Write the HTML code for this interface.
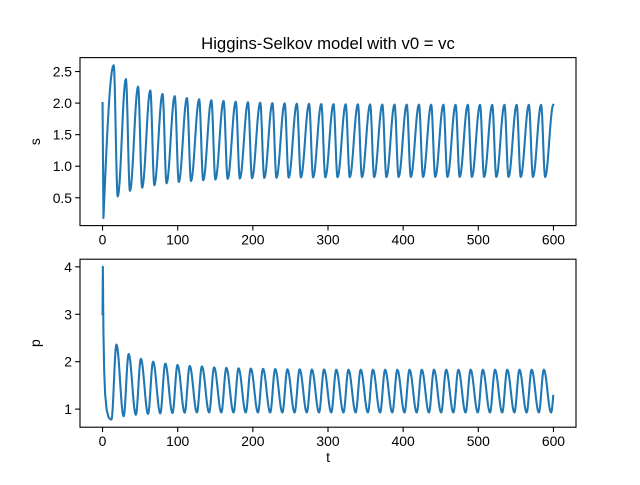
<!DOCTYPE html>
<html><head><meta charset="utf-8"><style>
body{margin:0;background:#fff}
svg{font-family:"Liberation Sans","DejaVu Sans",sans-serif}
</style></head><body>
<svg width="640" height="480" viewBox="0 0 640 480">
<rect width="640" height="480" fill="#fff"/>
<text x="328" y="49" font-size="16.7" text-anchor="middle">Higgins-Selkov model with v0 = vc</text>
<g id="top"></g>
<g id="bot"></g>
</svg>
<script>
const xTicks=[0,100,200,300,400,500,600];
const sTicks=[0.5,1.0,1.5,2.0,2.5];
const pTicks=[1,2,3,4];
const period=16.25;
const sInitial=[[0,2.0],[1.2,0.18]];
const sPeakT0=14.8;const sTroughT0=20.2;
const sPeaks=[2.60,2.38,2.26,2.20,2.145,2.11,2.08,2.06,2.045,2.034,2.022,2.013,2.006,2.0,1.995,1.99,1.988,1.985,1.983,1.98,1.98,1.978,1.977,1.976,1.975,1.975,1.974,1.974,1.973,1.973,1.973,1.972,1.972,1.972,1.972,1.972,1.972];
const sTroughs=[0.52,0.61,0.66,0.70,0.73,0.75,0.766,0.777,0.79,0.80,0.805,0.81,0.815,0.818,0.82,0.822,0.824,0.825,0.826,0.827,0.828,0.828,0.829,0.829,0.83,0.83,0.83,0.83,0.83,0.83,0.83,0.83,0.83,0.83,0.83,0.83,0.83];
const pInitial=[[0,3.0],[0.4,4.0],[1.2,2.6],[2.2,1.8],[3.5,1.3],[5.5,0.98],[8,0.83]];
const pTroughT0=11.8;const pPeakT0=18.5;
const pTroughs=[0.78,0.85,0.88,0.90,0.91,0.92,0.925,0.93,0.93,0.93,0.93,0.93,0.93,0.93,0.93,0.93,0.93,0.93,0.93,0.93,0.93,0.93,0.93,0.93,0.93,0.93,0.93,0.93,0.93,0.93,0.93,0.93,0.93,0.93,0.93,0.93,0.93];
const pPeaks=[2.36,2.16,2.06,2.0,1.96,1.93,1.91,1.90,1.88,1.87,1.86,1.855,1.85,1.845,1.84,1.84,1.835,1.835,1.83,1.83,1.83,1.83,1.83,1.83,1.83,1.83,1.83,1.83,1.83,1.83,1.83,1.83,1.83,1.83,1.83,1.83,1.83];

const NS="http://www.w3.org/2000/svg";
function el(p,tag,at){const e=document.createElementNS(NS,tag);for(const k in at)e.setAttribute(k,at[k]);p.appendChild(e);return e;}
const X0=80,X1=576,xmin=-30,xmax=630;
const xS=t=>X0+(t-xmin)/(xmax-xmin)*(X1-X0);

function buildCurve(initial,t0a,va,t0b,vb){
  const out=[];
  for(let i=0;i<initial.length-1;i++){
    const [ta,a]=initial[i],[tb,b]=initial[i+1];
    for(let j=0;j<6;j++){const u=j/6;out.push([ta+(tb-ta)*u,a+(b-a)*u]);}
  }
  const last=initial[initial.length-1];
  const ex=[];
  for(let k=0;k<Math.max(va.length,vb.length);k++){
    if(k<va.length)ex.push([t0a+k*period,va[k]]);
    if(k<vb.length)ex.push([t0b+k*period,vb[k]]);
  }
  ex.sort((a,b)=>a[0]-b[0]);
  const [ta0,a0]=last,[tb0,b0]=ex[0];
  for(let j=0;j<10;j++){const u=j/10;out.push([ta0+(tb0-ta0)*u,a0+(b0-a0)*Math.sin(Math.PI*u/2)]);}
  for(let i=0;i<ex.length-1;i++){
    const [ta,a]=ex[i],[tb,b]=ex[i+1];
    const n=14;
    for(let j=0;j<n;j++){const u=j/n;const t=ta+(tb-ta)*u;if(t>600)return out;
      out.push([t,a+(b-a)*(1-Math.cos(Math.PI*u))/2]);}
  }
  return out;
}
function axes(g,Y0,Y1,ymin,ymax,ticks,fmt,label,pts,name,showX){
  const yS=v=>Y1-(v-ymin)/(ymax-ymin)*(Y1-Y0);
  const d=pts.map((p,i)=>(i?'L':'M')+xS(p[0]).toFixed(2)+' '+yS(p[1]).toFixed(2)).join('');
  const clip=el(g,'clipPath',{id:'c'+name});el(clip,'rect',{x:X0,y:Y0,width:X1-X0,height:Y1-Y0});
  const line=el(g,'path',{d:d,fill:'none',stroke:'#1f77b4','stroke-width':2.08,'stroke-linejoin':'round','stroke-linecap':'square','clip-path':'url(#c'+name+')'});
  
  
  const fr=el(g,'rect',{x:X0,y:Y0,width:X1-X0,height:Y1-Y0,fill:'none',stroke:'#000','stroke-width':1.1});
  
  
  xTicks.forEach(t=>{const x=xS(t);
    el(g,'line',{x1:x,x2:x,y1:Y1,y2:Y1+4.9,stroke:'#000','stroke-width':1.1});
    const tx=el(g,'text',{x:x,y:Y1+19,'font-size':13.9,'text-anchor':'middle'});tx.textContent=t;
    
    });
  ticks.forEach(v=>{const y=yS(v);
    el(g,'line',{x1:X0-4.9,x2:X0,y1:y,y2:y,stroke:'#000','stroke-width':1.1});
    const tx=el(g,'text',{x:X0-8,y:y+5,'font-size':13.9,'text-anchor':'end'});tx.textContent=fmt(v);
    
    });
  const yl=el(g,'text',{x:0,y:0,'font-size':13.9,'text-anchor':'middle',transform:`translate(40,${(Y0+Y1)/2}) rotate(-90)`});yl.textContent=label;
  
  
  if(showX){const xl=el(g,'text',{x:(X0+X1)/2,y:Y1+35,'font-size':13.9,'text-anchor':'middle'});xl.textContent='t';
    
    }
}
const sPts=buildCurve(sInitial,sPeakT0,sPeaks,sTroughT0,sTroughs);
const pPts=buildCurve(pInitial,pTroughT0,pTroughs,pPeakT0,pPeaks);
const rng=a=>{let lo=Math.min(...a.map(p=>p[1])),hi=Math.max(...a.map(p=>p[1]));const pd=(hi-lo)*0.05;return[lo-pd,hi+pd];};
const rs=rng(sPts),rp=rng(pPts);
axes(document.getElementById('top'),57.6,225.6,rs[0],rs[1],sTicks,v=>v.toFixed(1),'s',sPts,'s',false);
axes(document.getElementById('bot'),259.2,427.2,rp[0],rp[1],pTicks,v=>String(v),'p',pPts,'p',true);
</script>
</body></html>
